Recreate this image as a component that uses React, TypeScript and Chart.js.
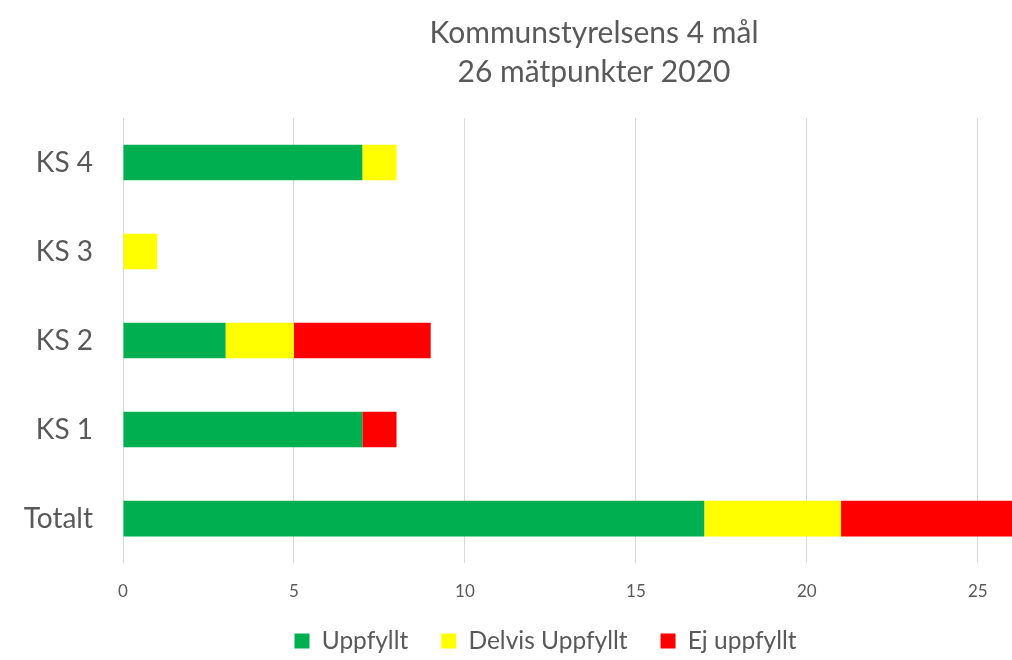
import React, { useEffect, useRef } from "react";
import { Chart, registerables } from "chart.js";

Chart.register(...registerables);

const categories = ["KS 4", "KS 3", "KS 2", "KS 1", "Totalt"];
const uppfyllt = [7, 0, 3, 7, 17];
const delvis = [1, 1, 2, 0, 4];
const ej = [0, 0, 4, 1, 5];
const seriesNames = ["Uppfyllt", "Delvis Uppfyllt", "Ej uppfyllt"];
const titleLines = ["Kommunstyrelsens 4 mål", "26 mätpunkter 2020"];
const xMax = 26;
const xStep = 5;

const FONT = "Lato, 'Open Sans', sans-serif";
const TEXT = "#595959";
const LEGEND_FONT = 24.5;
const LEGEND_PAD = 33;

const titlePlugin = {
  id: "customTitle",
  afterLayout(chart: any) {
    const lg = chart.legend;
    if (lg) {
      lg.left -= 22;
      lg.right -= 22;
      const targetTop = 641 - LEGEND_PAD - LEGEND_FONT / 2;
      const dy = targetTop - lg.top;
      lg.top += dy;
      lg.bottom += dy;
    }
  },
  afterDraw(chart: any) {
    const ctx = chart.ctx;
    ctx.save();
    ctx.fillStyle = TEXT;
    ctx.font = `30px ${FONT}`;
    ctx.textAlign = "center";
    ctx.textBaseline = "middle";
    ctx.fillText(titleLines[0], 594, 33);
    ctx.fillText(titleLines[1], 594, 72);
    ctx.restore();
  },
};

export default function App() {
  const ref = useRef<HTMLCanvasElement>(null);
  useEffect(() => {
    document.body.style.margin = "0";
    const chart = new Chart(ref.current!, {
      type: "bar",
      data: {
        labels: categories,
        datasets: [
          { label: seriesNames[0], data: uppfyllt, backgroundColor: "#00b050" },
          { label: seriesNames[1], data: delvis, backgroundColor: "#ffff00" },
          { label: seriesNames[2], data: ej, backgroundColor: "#ff0000" },
        ],
      },
      options: {
        indexAxis: "y",
        animation: false,
        responsive: false,
        maintainAspectRatio: false,
        datasets: { bar: { barPercentage: 0.4, categoryPercentage: 1 } },
        layout: { padding: { top: 118, right: 0, left: 0, bottom: -27 } },
        scales: {
          x: {
            stacked: true,
            min: 0,
            max: xMax,
            afterBuildTicks: (axis: any) => {
              axis.ticks = axis.ticks.filter((t: any) => t.value % xStep === 0);
            },
            ticks: { stepSize: xStep, color: TEXT, font: { family: FONT, size: 17 }, padding: 18 },
            grid: { color: "#d9d9d9", lineWidth: 1, drawTicks: false },
            border: { display: false },
          },
          y: {
            stacked: true,
            afterFit: (axis: any) => {
              axis.width = 123;
            },
            ticks: { color: TEXT, font: { family: FONT, size: 28 }, padding: 30 },
            grid: { display: false, drawTicks: false },
            border: { display: false },
          },
        },
        plugins: {
          title: { display: false },
          tooltip: { enabled: false },
          legend: {
            position: "bottom",
            fullSize: false,
            labels: {
              color: TEXT,
              font: { family: FONT, size: LEGEND_FONT },
              boxWidth: 15,
              boxHeight: 15,
              padding: LEGEND_PAD,
            },
          },
        },
      },
      plugins: [titlePlugin],
    });
    return () => chart.destroy();
  }, []);
  return <canvas ref={ref} width={1012} height={660} style={{ display: "block" }} />;
}
